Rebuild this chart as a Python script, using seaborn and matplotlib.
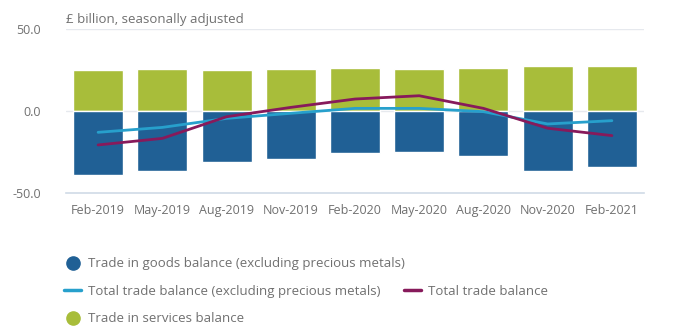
import numpy as np
import pandas as pd
import matplotlib
matplotlib.use("Agg")
import matplotlib.pyplot as plt
from matplotlib.lines import Line2D
import seaborn as sns

categories = ["Feb-2019", "May-2019", "Aug-2019", "Nov-2019", "Feb-2020",
              "May-2020", "Aug-2020", "Nov-2020", "Feb-2021"]
goods_excl_pm = [-39.2, -36.4, -31.1, -29.1, -25.4, -24.8, -27.4, -36.4, -34.3]
services = [25.0, 25.6, 25.0, 25.4, 26.2, 25.6, 26.2, 27.6, 27.6]
total_excl_pm = [-13.0, -10.0, -4.5, -1.4, 1.6, 1.6, -0.4, -7.9, -5.9]
total = [-20.7, -16.7, -3.5, 2.2, 7.3, 9.3, 1.6, -10.5, -15.0]
yticks = [-50.0, 0.0, 50.0]
title = "£ billion, seasonally adjusted"

BLUE = "#206095"
GREEN = "#a8bd3a"
AQUA = "#27a0cc"
PURPLE = "#871a5b"
TXT = "#707070"
AX = "#d0dae6"

sns.set_theme(style="white")
plt.rcParams["font.family"] = ["Open Sans", "DejaVu Sans"]

df = pd.DataFrame({"cat": categories, "goods": goods_excl_pm, "services": services,
                   "total_excl": total_excl_pm, "total": total,
                   "idx": np.arange(len(categories))})

fig = plt.figure(figsize=(6.81, 3.30), dpi=100)
W, H = 681, 330
left, right, top, bottom = 66, 644, 29, 193
ax = fig.add_axes([left / W, 1 - bottom / H, (right - left) / W, (bottom - top) / H])

for y in [0, 50]:
    ax.axhline(y, color="#e6e9ee", lw=1.0, zorder=0)

sns.barplot(data=df, x="cat", y="services", color=GREEN, width=0.78,
            saturation=1, ax=ax, zorder=2)
sns.barplot(data=df, x="cat", y="goods", color=BLUE, width=0.78,
            saturation=1, ax=ax, zorder=2)
sns.lineplot(data=df, x="idx", y="total_excl", color=AQUA, lw=2.0, ax=ax, zorder=3)
sns.lineplot(data=df, x="idx", y="total", color=PURPLE, lw=2.0, ax=ax, zorder=4)

ax.set_xlim(-0.5, len(categories) - 0.5)
ax.set_ylim(-50, 50)
ax.set_yticks(yticks)
ax.set_yticklabels([f"{v:.1f}" for v in yticks], color=TXT, fontsize=9)
ax.set_xticks(np.arange(len(categories)))
ax.set_xticklabels(categories, color=TXT, fontsize=9)
ax.set_xticks(np.arange(-0.5, len(categories)), minor=True)
ax.tick_params(axis="x", which="major", length=0, pad=8)
ax.tick_params(axis="x", which="minor", length=9, color=AX, width=1)
ax.tick_params(axis="y", length=0, pad=18)
ax.set_xlabel("")
ax.set_ylabel("")
for s in ["top", "right", "left"]:
    ax.spines[s].set_visible(False)
ax.spines["bottom"].set_color(AX)
ax.spines["bottom"].set_linewidth(1.2)

fig.text(left / W, 1 - 20 / H, title, color=TXT, fontsize=9.5, va="center", ha="left")

def circ(c):
    return Line2D([], [], marker="o", ms=9.5, color=c, lw=0)

def ln(c):
    return Line2D([], [], color=c, lw=2.5)

common = dict(frameon=False, fontsize=9.5, labelcolor=TXT, handlelength=1.29,
              handletextpad=0.53, borderaxespad=0, borderpad=0, loc="center left")
x0 = 64 / W
l1 = fig.legend([circ(BLUE)], ["Trade in goods balance (excluding precious metals)"],
                bbox_to_anchor=(x0, 1 - 264 / H), **common)
l2 = fig.legend([ln(AQUA), ln(PURPLE)],
                ["Total trade balance (excluding precious metals)", "Total trade balance"],
                ncol=2, columnspacing=1.75, bbox_to_anchor=(x0, 1 - 291.5 / H), **common)
l3 = fig.legend([circ(GREEN)], ["Trade in services balance"],
                bbox_to_anchor=(x0, 1 - 319 / H), **common)

fig.savefig("out.png", dpi=100)
